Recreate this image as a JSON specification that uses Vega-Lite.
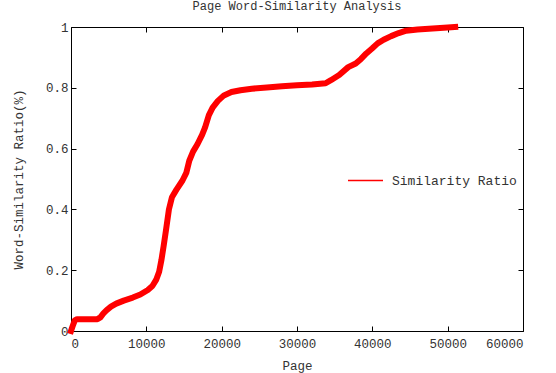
{
  "$schema": "https://vega.github.io/schema/vega-lite/v6.json",
  "width": 452,
  "height": 304,
  "autosize": {"type": "none"},
  "padding": {"left": 71, "top": 27, "right": 33, "bottom": 42},
  "background": "white",
  "title": {"text": "Page Word-Similarity Analysis", "font": "Liberation Mono", "fontSize": 12, "fontWeight": "normal", "color": "#333", "anchor": "middle", "offset": 8},
  "config": {
    "view": {"stroke": "#000", "strokeWidth": 1},
    "axis": {"labelFont": "Liberation Mono", "labelFontSize": 12.5, "labelColor": "#333", "titleFont": "Liberation Mono", "titleFontSize": 12.5, "titleFontWeight": "normal", "titleColor": "#333", "grid": false, "domain": false, "tickColor": "#000", "tickSize": -5, "labelPadding": 8}
  },
  "data": {"values": [
    {"page": 0, "ratio": 0, "series": "Similarity Ratio"},
    {"page": 200, "ratio": 0.015, "series": "Similarity Ratio"},
    {"page": 500, "ratio": 0.035, "series": "Similarity Ratio"},
    {"page": 800, "ratio": 0.039, "series": "Similarity Ratio"},
    {"page": 3500, "ratio": 0.039, "series": "Similarity Ratio"},
    {"page": 3900, "ratio": 0.045, "series": "Similarity Ratio"},
    {"page": 4300, "ratio": 0.058, "series": "Similarity Ratio"},
    {"page": 4700, "ratio": 0.068, "series": "Similarity Ratio"},
    {"page": 5300, "ratio": 0.08, "series": "Similarity Ratio"},
    {"page": 6000, "ratio": 0.09, "series": "Similarity Ratio"},
    {"page": 7000, "ratio": 0.1, "series": "Similarity Ratio"},
    {"page": 8200, "ratio": 0.11, "series": "Similarity Ratio"},
    {"page": 9200, "ratio": 0.12, "series": "Similarity Ratio"},
    {"page": 10200, "ratio": 0.135, "series": "Similarity Ratio"},
    {"page": 10800, "ratio": 0.148, "series": "Similarity Ratio"},
    {"page": 11300, "ratio": 0.168, "series": "Similarity Ratio"},
    {"page": 11700, "ratio": 0.195, "series": "Similarity Ratio"},
    {"page": 12000, "ratio": 0.233, "series": "Similarity Ratio"},
    {"page": 12300, "ratio": 0.28, "series": "Similarity Ratio"},
    {"page": 12600, "ratio": 0.33, "series": "Similarity Ratio"},
    {"page": 13000, "ratio": 0.4, "series": "Similarity Ratio"},
    {"page": 13400, "ratio": 0.44, "series": "Similarity Ratio"},
    {"page": 14000, "ratio": 0.465, "series": "Similarity Ratio"},
    {"page": 14800, "ratio": 0.495, "series": "Similarity Ratio"},
    {"page": 15300, "ratio": 0.52, "series": "Similarity Ratio"},
    {"page": 15700, "ratio": 0.56, "series": "Similarity Ratio"},
    {"page": 16200, "ratio": 0.59, "series": "Similarity Ratio"},
    {"page": 16800, "ratio": 0.615, "series": "Similarity Ratio"},
    {"page": 17400, "ratio": 0.645, "series": "Similarity Ratio"},
    {"page": 17800, "ratio": 0.67, "series": "Similarity Ratio"},
    {"page": 18300, "ratio": 0.71, "series": "Similarity Ratio"},
    {"page": 18800, "ratio": 0.735, "series": "Similarity Ratio"},
    {"page": 19500, "ratio": 0.757, "series": "Similarity Ratio"},
    {"page": 20300, "ratio": 0.775, "series": "Similarity Ratio"},
    {"page": 21300, "ratio": 0.786, "series": "Similarity Ratio"},
    {"page": 22500, "ratio": 0.792, "series": "Similarity Ratio"},
    {"page": 24000, "ratio": 0.797, "series": "Similarity Ratio"},
    {"page": 26000, "ratio": 0.801, "series": "Similarity Ratio"},
    {"page": 28000, "ratio": 0.805, "series": "Similarity Ratio"},
    {"page": 30000, "ratio": 0.808, "series": "Similarity Ratio"},
    {"page": 32000, "ratio": 0.811, "series": "Similarity Ratio"},
    {"page": 33800, "ratio": 0.815, "series": "Similarity Ratio"},
    {"page": 34500, "ratio": 0.825, "series": "Similarity Ratio"},
    {"page": 35600, "ratio": 0.842, "series": "Similarity Ratio"},
    {"page": 36800, "ratio": 0.868, "series": "Similarity Ratio"},
    {"page": 37800, "ratio": 0.88, "series": "Similarity Ratio"},
    {"page": 38500, "ratio": 0.895, "series": "Similarity Ratio"},
    {"page": 39200, "ratio": 0.913, "series": "Similarity Ratio"},
    {"page": 40000, "ratio": 0.93, "series": "Similarity Ratio"},
    {"page": 40700, "ratio": 0.946, "series": "Similarity Ratio"},
    {"page": 41500, "ratio": 0.958, "series": "Similarity Ratio"},
    {"page": 42500, "ratio": 0.97, "series": "Similarity Ratio"},
    {"page": 43500, "ratio": 0.98, "series": "Similarity Ratio"},
    {"page": 44500, "ratio": 0.988, "series": "Similarity Ratio"},
    {"page": 46000, "ratio": 0.992, "series": "Similarity Ratio"},
    {"page": 48000, "ratio": 0.995, "series": "Similarity Ratio"},
    {"page": 50000, "ratio": 0.998, "series": "Similarity Ratio"},
    {"page": 51000, "ratio": 1.0, "series": "Similarity Ratio"}
  ]},
  "layer": [
    {
      "mark": {"type": "line", "strokeWidth": 6, "strokeJoin": "round", "strokeCap": "square", "clip": false},
      "encoding": {
        "x": {"field": "page", "type": "quantitative", "scale": {"domain": [0, 60000], "nice": false}, "axis": {"title": "Page", "values": [0, 10000, 20000, 30000, 40000, 50000, 60000], "format": "d", "labelPadding": 11, "titlePadding": 10}},
        "y": {"field": "ratio", "type": "quantitative", "scale": {"domain": [0, 1], "nice": false}, "axis": {"title": "Word-Similarity Ratio(%)", "values": [0, 0.2, 0.4, 0.6, 0.8, 1], "format": "~g", "titlePadding": 20}},
        "color": {"field": "series", "type": "nominal", "scale": {"range": ["#ff0000"]}, "legend": {"title": null, "orient": "none", "legendX": 276, "legendY": 135, "symbolType": "stroke", "symbolSize": 1225, "symbolStrokeWidth": 1.5, "labelFont": "Liberation Mono", "labelFontSize": 13, "labelColor": "#333", "labelOffset": 8}},
        "order": {"field": "page"}
      }
    },
    {
      "mark": {"type": "line", "opacity": 0},
      "encoding": {
        "x": {"field": "page", "type": "quantitative", "scale": {"domain": [0, 60000], "nice": false}, "axis": {"orient": "top", "title": null, "labels": false, "values": [0, 10000, 20000, 30000, 40000, 50000, 60000]}},
        "y": {"field": "ratio", "type": "quantitative", "scale": {"domain": [0, 1], "nice": false}, "axis": {"orient": "right", "title": null, "labels": false, "values": [0, 0.2, 0.4, 0.6, 0.8, 1]}}
      }
    }
  ],
  "resolve": {"axis": {"x": "independent", "y": "independent"}}
}
